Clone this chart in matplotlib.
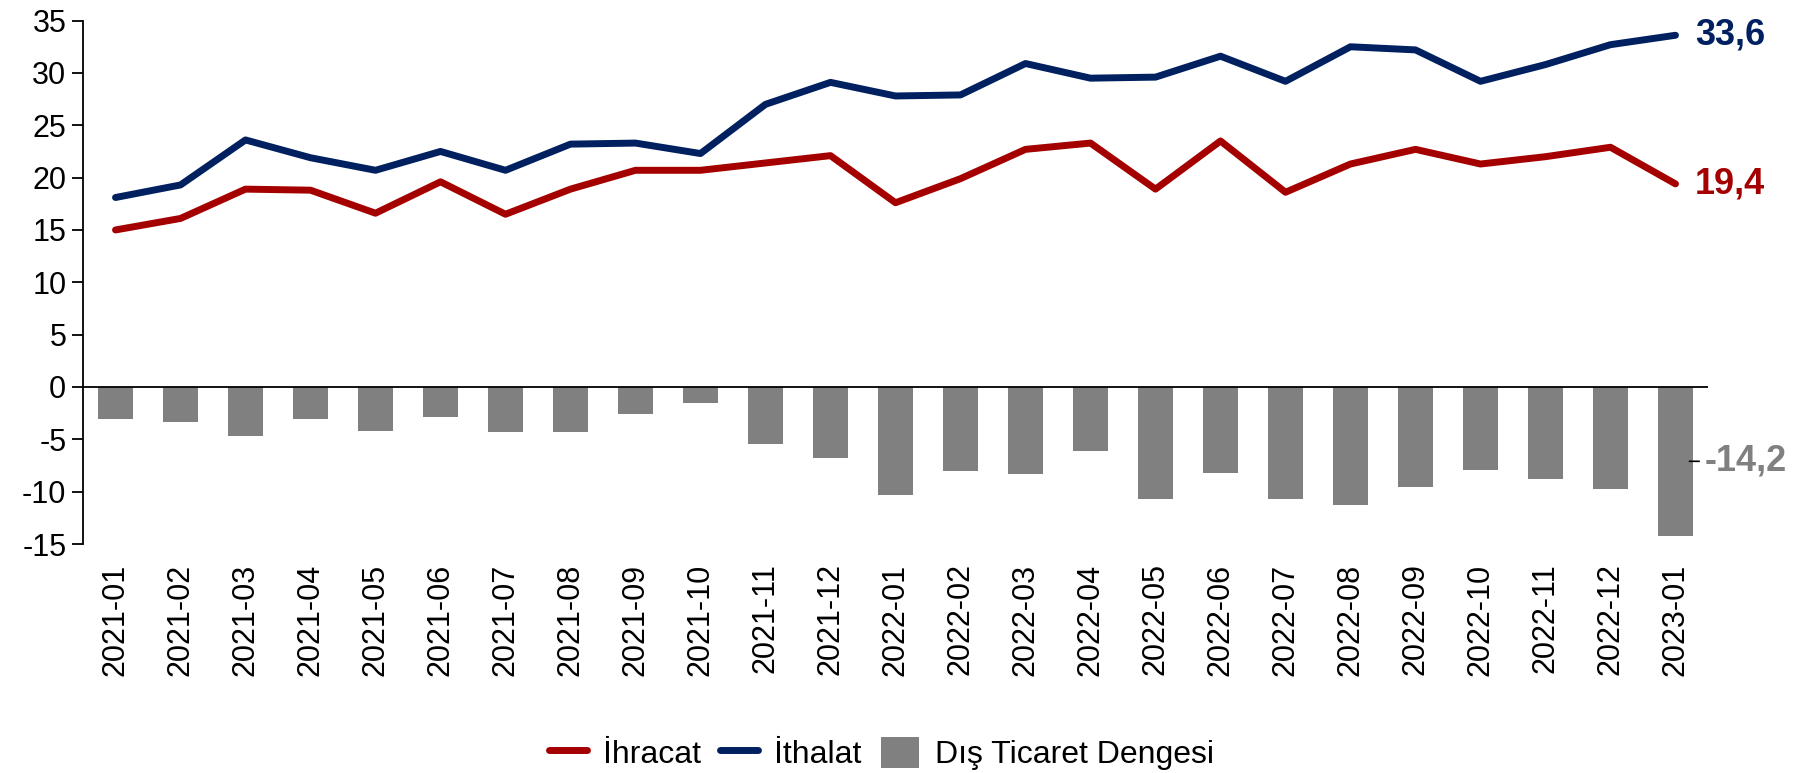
import matplotlib
matplotlib.use("Agg")
import matplotlib.pyplot as plt
from matplotlib.lines import Line2D
from matplotlib.patches import Patch
import numpy as np

plt.rcParams['font.family'] = ['Liberation Sans', 'DejaVu Sans']
plt.rcParams['axes.unicode_minus'] = False

months = ["2021-01", "2021-02", "2021-03", "2021-04", "2021-05", "2021-06",
          "2021-07", "2021-08", "2021-09", "2021-10", "2021-11", "2021-12",
          "2022-01", "2022-02", "2022-03", "2022-04", "2022-05", "2022-06",
          "2022-07", "2022-08", "2022-09", "2022-10", "2022-11", "2022-12",
          "2023-01"]
ihracat = [15.0, 16.1, 18.9, 18.8, 16.6, 19.6, 16.5, 18.9, 20.7, 20.7, 21.4, 22.1,
           17.6, 19.9, 22.7, 23.3, 18.9, 23.5, 18.6, 21.3, 22.7, 21.3, 22.0, 22.9,
           19.4]
ithalat = [18.1, 19.3, 23.6, 21.9, 20.7, 22.5, 20.7, 23.2, 23.3, 22.3, 27.0, 29.1,
           27.8, 27.9, 30.9, 29.5, 29.6, 31.6, 29.2, 32.5, 32.2, 29.2, 30.8, 32.7,
           33.6]
denge = [-3.1, -3.3, -4.7, -3.1, -4.2, -2.9, -4.3, -4.3, -2.6, -1.5, -5.4, -6.8,
         -10.3, -8.0, -8.3, -6.1, -10.7, -8.2, -10.7, -11.3, -9.6, -7.9, -8.8, -9.7,
         -14.2]
yticks = [-15, -10, -5, 0, 5, 10, 15, 20, 25, 30, 35]
labels = ["İhracat", "İthalat", "Dış Ticaret Dengesi"]

RED = "#A50000"
NAVY = "#002060"
GRAY = "#808080"

fig = plt.figure(figsize=(18.06, 7.73), dpi=100)
ax = fig.add_axes([83/1806, 1 - 544/773, (1708 - 83)/1806, (544 - 20.6)/773])

x = np.arange(len(months))
bw = 0.55
ax.bar(x, denge, width=bw, color=GRAY, zorder=1)
ax.axhline(0, color="black", lw=1.3, zorder=2)
ax.plot(x, ihracat, color=RED, lw=5, solid_capstyle="round", solid_joinstyle="round", zorder=3)
ax.plot(x, ithalat, color=NAVY, lw=5, solid_capstyle="round", solid_joinstyle="round", zorder=3)

ax.set_xlim(-0.5, len(months) - 0.5)
ax.set_ylim(-15, 35)
ax.set_yticks(yticks)
ax.set_yticklabels([str(v) for v in yticks], fontsize=22)
ax.set_xticks(x)
ax.set_xticklabels(months, rotation=90, fontsize=22, va="top")
ax.tick_params(axis="x", length=0, pad=14)
ax.tick_params(axis="y", length=8, width=1.3, direction="out", pad=4)

for s in ["top", "right", "bottom"]:
    ax.spines[s].set_visible(False)
ax.spines["left"].set_linewidth(1.3)

# end labels
ax.annotate(f"{ithalat[-1]:.1f}".replace(".", ","), xy=(x[-1], ithalat[-1]),
            xytext=(14, 0), textcoords="offset points", ha="left", va="center",
            fontsize=26, fontweight="bold", color=NAVY)
ax.annotate(f"{ihracat[-1]:.1f}".replace(".", ","), xy=(x[-1], ihracat[-1]),
            xytext=(14, 0), textcoords="offset points", ha="left", va="center",
            fontsize=26, fontweight="bold", color=RED)
ax.annotate(f"{denge[-1]:.1f}".replace(".", ","), xy=(x[-1] + bw/2 - 0.06, denge[-1]/2),
            xytext=(11, 0), textcoords="offset points", ha="left", va="center",
            fontsize=26, fontweight="bold", color=GRAY,
            arrowprops=dict(arrowstyle="-", color="black", lw=1.2, shrinkA=2, shrinkB=0),
            annotation_clip=False)

handles = [Line2D([0], [0], color=RED, lw=5, solid_capstyle="round"),
           Line2D([0], [0], color=NAVY, lw=5, solid_capstyle="round"),
           Patch(facecolor=GRAY, edgecolor="none")]
fig.legend(handles, labels, loc="center", bbox_to_anchor=(0.488, 0.025), ncol=3,
           frameon=False, fontsize=23, handlelength=1.2, handleheight=1.1,
           handletextpad=0.5, columnspacing=0.6, borderaxespad=0)

fig.savefig("out.png", dpi=100)
